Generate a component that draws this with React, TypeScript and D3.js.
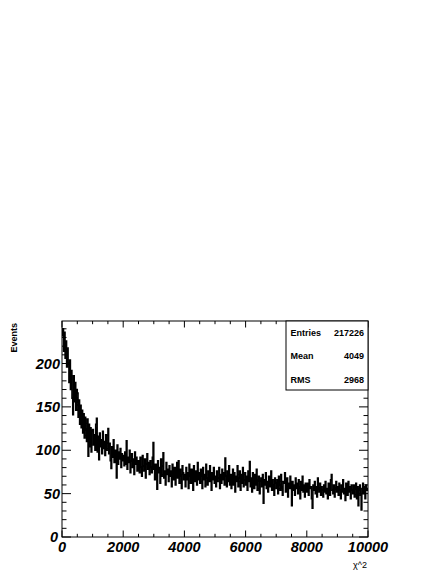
import React from "react";
import * as d3 from "d3";

const binWidth = 25;
const xMin = 0;
const xMax = 10000;
const yMax = 249;
const counts: number[] = [
  232, 240, 214, 236, 206, 226, 196, 218, 200, 178, 204, 170, 192, 160, 141, 186, 156, 178, 146, 170,
  166, 138, 158, 130, 152, 126, 146, 120, 142, 114, 138, 124, 110, 136, 93, 130, 104, 126, 98, 122,
  124, 106, 118, 100, 130, 137, 98, 116, 89, 120, 104, 112, 96, 122, 102, 110, 94, 118, 100, 108,
  125, 96, 108, 88, 79, 104, 92, 112, 86, 100, 94, 68, 106, 84, 98, 90, 102, 80, 96, 88,
  94, 82, 98, 84, 111, 78, 92, 86, 100, 74, 88, 96, 80, 90, 72, 98, 84, 92, 76, 88,
  86, 74, 92, 80, 70, 94, 82, 76, 90, 68, 84, 96, 78, 86, 72, 88, 80, 74, 92, 109,
  78, 66, 84, 72, 55, 88, 74, 80, 62, 90, 70, 82, 97, 68, 76, 60, 86, 72, 78, 64,
  82, 70, 76, 58, 84, 72, 66, 80, 60, 74, 86, 68, 88, 62, 78, 70, 56, 82, 74, 66,
  72, 58, 80, 66, 74, 56, 84, 70, 62, 78, 68, 54, 82, 72, 64, 76, 60, 86, 66, 74,
  62, 78, 70, 56, 80, 66, 72, 58, 84, 68, 60, 76, 64, 82, 70, 54, 74, 66, 80, 62,
  70, 58, 76, 64, 68, 80, 56, 72, 62, 78, 66, 74, 60, 91, 70, 58, 76, 64, 82, 60,
  72, 56, 68, 78, 60, 74, 52, 70, 64, 82, 58, 68, 76, 54, 72, 62, 80, 58, 66, 74,
  60, 70, 54, 76, 64, 87, 58, 68, 52, 74, 62, 56, 72, 60, 78, 54, 66, 70, 50, 64,
  68, 58, 72, 39, 66, 60, 74, 56, 64, 52, 70, 62, 58, 76, 54, 66, 60, 48, 68, 62,
  56, 66, 50, 70, 60, 54, 72, 58, 48, 64, 62, 74, 52, 60, 68, 46, 62, 56, 70, 58,
  36, 64, 54, 60, 48, 68, 56, 62, 50, 66, 58, 44, 64, 54, 70, 52, 60, 46, 62, 56,
  52, 62, 48, 66, 56, 58, 44, 33, 60, 54, 64, 50, 58, 46, 68, 56, 52, 62, 48, 58,
  54, 46, 60, 52, 64, 50, 56, 44, 62, 58, 48, 66, 72, 54, 50, 60, 46, 56, 64, 52,
  58, 48, 62, 54, 44, 60, 52, 66, 50, 56, 42, 62, 54, 48, 64, 52, 58, 44, 60, 54,
  50, 60, 46, 56, 62, 44, 58, 36, 54, 60, 48, 31, 56, 62, 50, 58, 44, 60, 54, 56,
];
const xTicks = [0, 2000, 4000, 6000, 8000, 10000];
const yTicks = [0, 50, 100, 150, 200];
const statsLabels = ["Entries", "Mean", "RMS"];
const statsValues = ["217226", "4049", "2968"];
const xTitle = "χ^2";
const yTitle = "Events";

export default function App() {
  const W = 442, H = 571;
  const left = 62, right = 368, top = 321, bottom = 537;
  const x = d3.scaleLinear().domain([xMin, xMax]).range([left, right]);
  const y = d3.scaleLinear().domain([0, yMax]).range([bottom, top]);

  const pts: [number, number][] = counts.map((c, i) => [xMin + i * binWidth, c]);
  pts.push([xMin + counts.length * binWidth, counts[counts.length - 1]]);
  const line = d3.line<[number, number]>()
    .x(d => x(d[0]))
    .y(d => y(d[1]))
    .curve(d3.curveStepAfter);

  const xMinor = d3.range(xMin, xMax + 1, 500);
  const yMinor = d3.range(0, yMax, 10);
  const font = "'Liberation Sans', Arial, Helvetica, sans-serif";

  const statsLeft = 286, statsBottom = 390;
  return (
    <svg width={W} height={H} style={{ position: "absolute", left: 0, top: 0, background: "#fff" }}>
      <rect x={0} y={0} width={W} height={H} fill="#fff" />
      <path d={line(pts) || ""} fill="none" stroke="#000" strokeWidth={1.5} />
      {xMinor.map(v => {
        const major = v % 2000 === 0;
        const len = major ? 6.5 : 3.2;
        return (
          <g key={"xt" + v}>
            <line x1={x(v)} x2={x(v)} y1={bottom} y2={bottom - len} stroke="#000" strokeWidth={1} />
            <line x1={x(v)} x2={x(v)} y1={top} y2={top + len} stroke="#000" strokeWidth={1} />
          </g>
        );
      })}
      {yMinor.map(v => {
        const major = v % 50 === 0;
        const len = major ? 9 : 4.5;
        return (
          <g key={"yt" + v}>
            <line x1={left} x2={left + len} y1={y(v)} y2={y(v)} stroke="#000" strokeWidth={1} />
            <line x1={right} x2={right - len} y1={y(v)} y2={y(v)} stroke="#000" strokeWidth={1} />
          </g>
        );
      })}
      <rect x={left} y={top} width={right - left} height={bottom - top} fill="none" stroke="#000" strokeWidth={1} />
      {xTicks.map(v => (
        <text key={"xl" + v} x={x(v)} y={552} textAnchor="middle" fontFamily={font} fontWeight="bold" fontStyle="italic" fontSize={14.5}>{v}</text>
      ))}
      {yTicks.map(v => (
        <text key={"yl" + v} x={v === 0 ? 58 : 60} y={y(v) + 5} textAnchor="end" fontFamily={font} fontWeight="bold" fontStyle="italic" fontSize={14.5}>{v}</text>
      ))}
      <text x={367} y={568} textAnchor="end" fontFamily={font} fontSize={9}>{xTitle}</text>
      <text transform={`translate(16.5,${top + 2}) rotate(-90)`} textAnchor="end" fontFamily={font} fontWeight="bold" fontSize={9}>{yTitle}</text>
      <rect x={statsLeft} y={top} width={right - statsLeft} height={statsBottom - top} fill="#fff" stroke="#000" strokeWidth={1} />
      {statsLabels.map((l, i) => (
        <g key={"s" + i}>
          <text x={statsLeft + 4.5} y={top + 15 + i * 23.3} fontFamily={font} fontWeight="bold" fontSize={9}>{l}</text>
          <text x={right - 4} y={top + 15 + i * 23.3} textAnchor="end" fontFamily={font} fontWeight="bold" fontSize={9}>{statsValues[i]}</text>
        </g>
      ))}
    </svg>
  );
}
